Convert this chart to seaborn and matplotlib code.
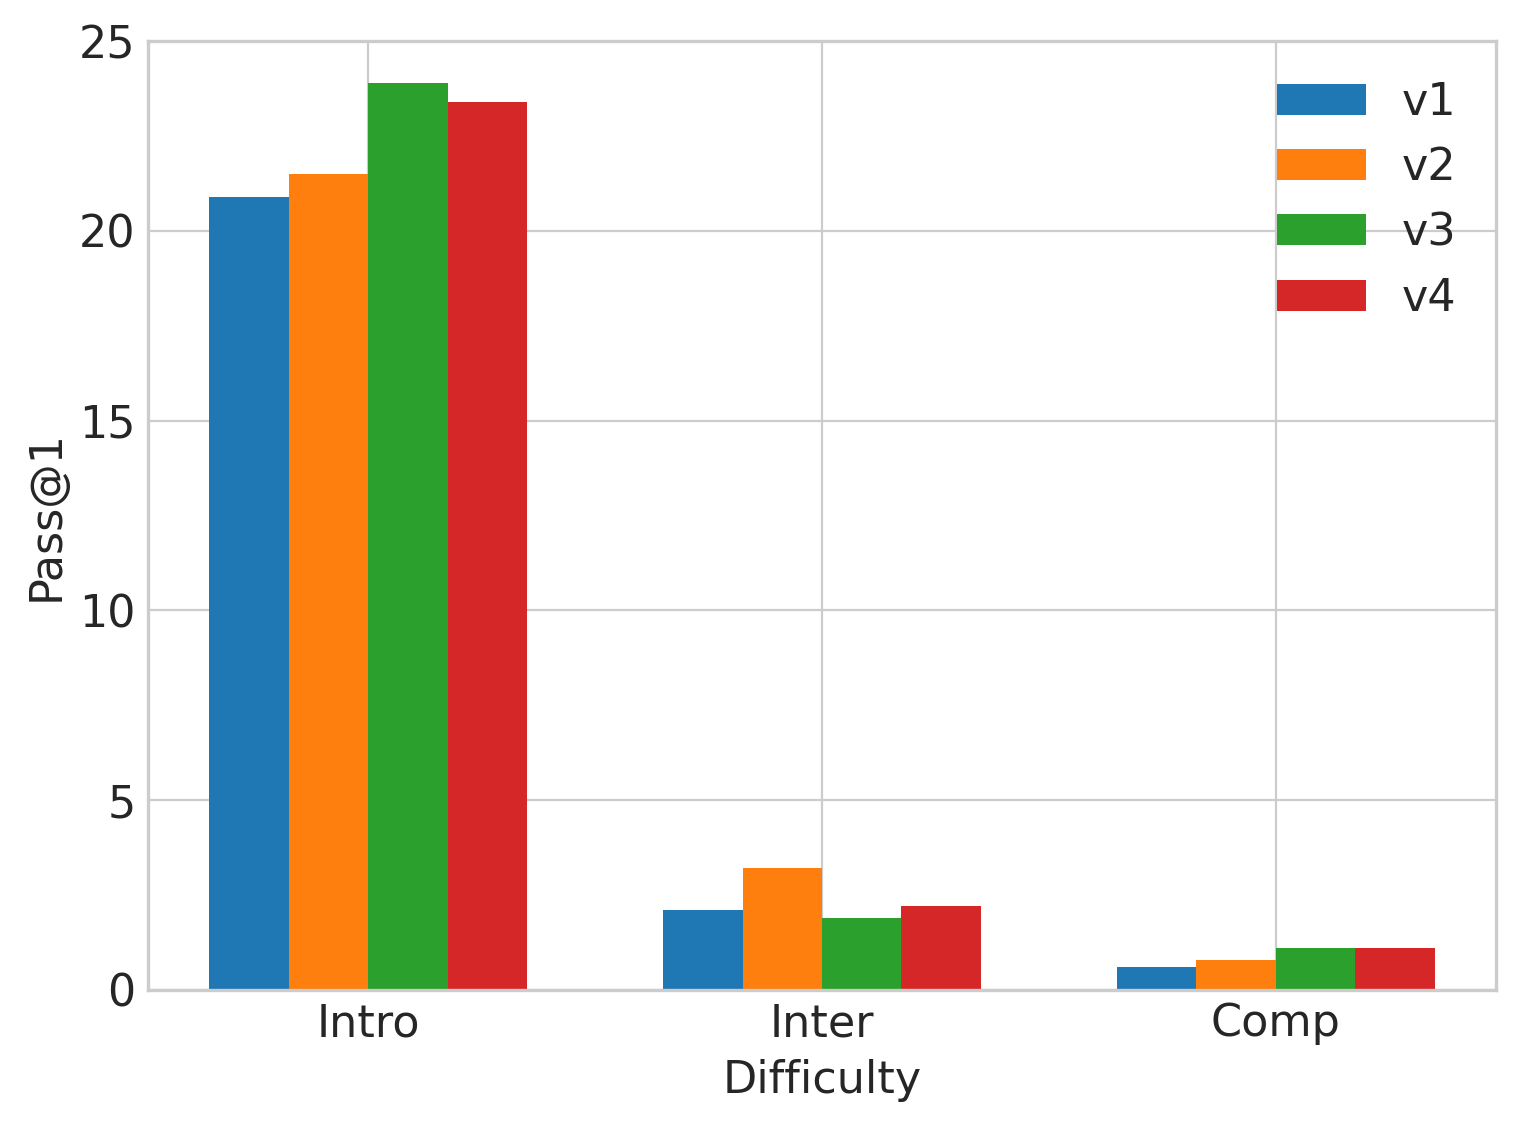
import pandas as pd
import seaborn as sns
import matplotlib.pyplot as plt

difficulty = ["Intro", "Inter", "Comp"]
versions = ["v1", "v2", "v3", "v4"]
v1 = [20.9, 2.1, 0.6]
v2 = [21.5, 3.2, 0.8]
v3 = [23.9, 1.9, 1.1]
v4 = [23.4, 2.2, 1.1]

rows = []
for ver, vals in zip(versions, [v1, v2, v3, v4]):
    for d, v in zip(difficulty, vals):
        rows.append({"Difficulty": d, "version": ver, "Pass@1": v})
df = pd.DataFrame(rows)

sns.set_style("whitegrid")
plt.rcParams["font.family"] = ["DejaVu Sans"]

fig, ax = plt.subplots(figsize=(7.605, 5.635), dpi=200)
sns.barplot(data=df, x="Difficulty", y="Pass@1", hue="version", order=difficulty,
            hue_order=versions, palette=["#1f77b4", "#ff7f0e", "#2ca02c", "#d62728"],
            width=0.7, gap=0, saturation=1, errorbar=None, ax=ax)
for p in ax.patches:
    p.set_edgecolor("none")

ax.set_xlim(-0.485, 2.485)
ax.set_ylim(0, 25)
ax.xaxis.grid(True)
ax.yaxis.grid(True)
ax.set_axisbelow(True)
ax.set_xlabel("Difficulty", fontsize=16, labelpad=5)
ax.set_ylabel("Pass@1", fontsize=16)
ax.tick_params(labelsize=16, pad=1)
for s in ax.spines.values():
    s.set_edgecolor("#cccccc")
    s.set_linewidth(1.2)
ax.legend(loc="upper right", frameon=False, fontsize=16, labelspacing=0.5,
          handletextpad=0.8, borderaxespad=0.5)

fig.subplots_adjust(left=0.0973, right=0.9836, top=0.9636, bottom=0.1216)
plt.savefig("out.png", dpi=200)
